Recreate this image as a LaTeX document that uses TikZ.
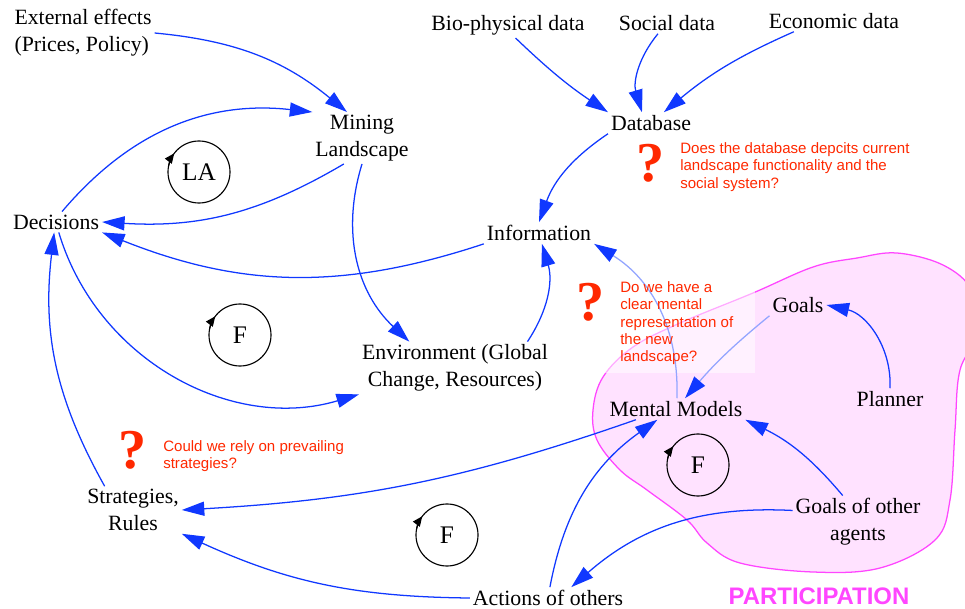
\documentclass[tikz,border=0pt]{standalone}
\usepackage{fontspec}
\setmainfont{Liberation Serif}
\newfontfamily\notefont{Liberation Sans}
\usetikzlibrary{arrows.meta}
\definecolor{linkblue}{RGB}{16,56,255}
\definecolor{notered}{RGB}{255,40,0}
\definecolor{partpink}{RGB}{255,70,255}
\definecolor{partfill}{RGB}{255,226,255}

\begin{document}
\begin{tikzpicture}[x=0.025cm, y=-0.025cm,
    lbl/.style={align=center, inner sep=2pt, font=\fontsize{15.5}{19}\selectfont},
    link/.style={draw=linkblue, line width=0.9pt, -{Triangle[length=16pt,width=10pt,color=linkblue]}},
    faint/.style={draw=linkblue!45},
    note/.style={anchor=north west, align=left, inner sep=0pt, text=notered, font=\notefont\fontsize{10.7}{12.4}\selectfont},
    qmark/.style={text=notered, inner sep=0pt, font=\bfseries\fontsize{40}{40}\selectfont},
    loopnode/.style={circle, draw=black, line width=0.8pt, minimum size=1.55cm, inner sep=0pt, font=\fontsize{18}{18}\selectfont},
    turn/.style={line width=0.8pt, -{Triangle[length=7pt,width=6pt]}}]
    \useasboundingbox (0,0) rectangle (965,609);

    % participation area
    \begin{scope}
    \clip (0,0) rectangle (965,609);
    \draw[partpink, fill=partfill, line width=0.9pt] plot[smooth cycle, tension=0.6] coordinates {
        (593,410) (603,377) (633,347) (680,323) (753,293) (813,267) (857,258)
        (897,253) (943,265) (972,290) (980,330) (960,370) (955,430) (950,500)
        (935,540) (880,568) (813,572) (740,563) (707,543) (687,520) (647,490)
        (620,470) (597,440)};
    \end{scope}
    \fill[white, opacity=0.55] (600,250) rectangle (755,373);
    \node[font=\notefont\bfseries\fontsize{17}{17}\selectfont, text=partpink] (part) at (819,596) {PARTICIPATION};

    % nodes
    \node[lbl, align=left] (ext) at (83,33) {External effects\\(Prices, Policy)};
    \node[lbl] (mining) at (362,138) {Mining\\Landscape};
    \node[lbl] (bio) at (508,25) {Bio-physical data};
    \node[lbl] (social) at (667,23) {Social data};
    \node[lbl] (econ) at (834,21) {Economic data};
    \node[lbl] (db) at (651,123) {Database};
    \node[lbl] (dec) at (56,222) {Decisions};
    \node[lbl] (info) at (539,233) {Information};
    \node[lbl] (env) at (455,368) {Environment (Global\\Change, Resources)};
    \node[lbl] (strat) at (133,510) {Strategies,\\Rules};
    \node[lbl] (mm) at (676,409) {Mental Models};
    \node[lbl] (goals) at (798,305) {Goals};
    \node[lbl] (planner) at (890,399) {Planner};
    \node[lbl] (goa) at (858,522) {Goals of other\\agents};
    \node[lbl] (act) at (548,598) {Actions of others};

    % loops
    \node[loopnode] (la) at (199,172) {LA};
    \node[loopnode] (f1) at (240,335) {F};
    \node[loopnode] (f2) at (447,535) {F};
    \node[loopnode] (f3) at (698,465) {F};
    \foreach \c in {la,f1,f2,f3}
        \draw[turn] (\c.center) ++(168:0.775cm) arc[start angle=168, end angle=143, radius=0.775cm];

    % links
    \draw [link](ext.east) to[bend left=17] (mining.120);
    \draw [link](dec.60) to[bend left=28] (mining.north west);
    \draw [link](mining.-125) to[bend left=17] (dec.east);
    \draw [link](info.south west) to[bend left=20] (dec.south east);
    \draw [link](dec.-75) to[bend right=45] (env.south west);
    \draw [link](strat.140) to[bend left=18] (dec.-100);
    \draw [link](mining.south) to[bend right=32] (env.150);
    \draw [link](env.20) to[bend right=25] (info.-75);
    \draw [link](db.south west) to[bend right=18] (info.north);
    \draw [link](bio.-60) to[bend right=5] (db.north west);
    \draw [link](social.-130) to[bend right=28] (db.130);
    \draw [link](econ.-165) to[bend right=8] (db.40);
    \draw [link, faint](mm.85) to[bend right=30] (info.south east);
    \draw [link, faint](goals.south west) to[bend right=5] (mm.50);
    \draw [link](planner.north) to[bend right=40] (goals.east);
    \draw [link](mm.-165) to[bend left=8] (strat.east);
    \draw [link](act.west) to[bend left=12] (strat.south east);
    \draw [link](act.80) to[bend left=22] (mm.-150);
    \draw [link](goa.120) to[bend right=12] (mm.south east);
    \draw [link](goa.170) to[bend right=22] (act.25);

    % questions
    \node[qmark] (q1) at (651,163) {?};
    \node[note] (n1) at (680,142) {Does the database depcits current\\landscape functionality and the\\social system?};
    \node[qmark] (q2) at (591,302) {?};
    \node[note] (n2) at (620,281) {Do we have a\\clear mental\\representation of\\the new\\landscape?};
    \node[qmark] (q3) at (133,450) {?};
    \node[note] (n3) at (163,440) {Could we rely on prevailing\\strategies?};
\end{tikzpicture}
\end{document}
